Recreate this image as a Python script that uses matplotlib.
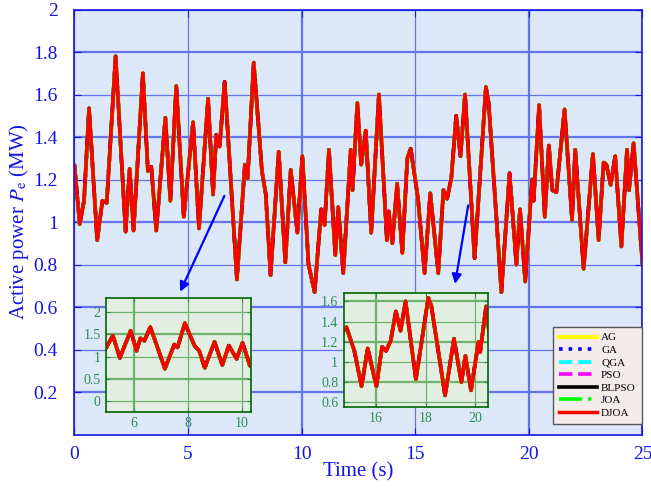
import matplotlib
matplotlib.use("Agg")
import matplotlib.pyplot as plt

plt.rcParams['font.family'] = ['Liberation Serif', 'DejaVu Serif']
plt.rcParams['mathtext.fontset'] = 'stix'

time_s = [0.00, 0.23, 0.42, 0.64, 1.00, 1.23, 1.42, 1.81, 2.25, 2.43,
          2.60, 3.01, 3.23, 3.38, 3.60, 4.00, 4.22, 4.48, 4.81, 5.22,
          5.48, 5.88, 6.10, 6.24, 6.39, 6.61, 7.15, 7.50, 7.62, 7.89,
          8.25, 8.42, 8.63, 8.99, 9.28, 9.52, 9.81, 10.03, 10.30, 10.57,
          10.86, 11.01, 11.20, 11.48, 11.61, 11.83, 12.16, 12.24, 12.45, 12.62,
          12.82, 13.06, 13.40, 13.75, 13.83, 13.99, 14.20, 14.43, 14.65, 14.80,
          15.12, 15.41, 15.66, 16.01, 16.24, 16.40, 16.59, 16.80, 16.99, 17.19,
          17.61, 18.11, 18.23, 18.79, 19.15, 19.45, 19.61, 19.84, 20.14, 20.21,
          20.45, 20.70, 20.88, 21.03, 21.21, 21.57, 21.90, 22.04, 22.41, 22.82,
          23.07, 23.29, 23.41, 23.60, 23.80, 24.07, 24.32, 24.41, 24.61, 25.00]
power = [1.265, 0.99, 1.10, 1.535, 0.915, 1.10, 1.09, 1.78, 0.955, 1.25,
         0.96, 1.70, 1.24, 1.26, 0.96, 1.49, 1.10, 1.64, 1.025, 1.47,
         0.97, 1.58, 1.13, 1.41, 1.355, 1.66, 0.73, 1.27, 1.205, 1.75,
         1.24, 1.13, 0.75, 1.33, 0.81, 1.245, 0.95, 1.31, 0.80, 0.67,
         1.06, 0.986, 1.34, 0.845, 1.07, 0.76, 1.34, 1.15, 1.56, 1.27,
         1.43, 0.95, 1.60, 0.915, 1.05, 0.90, 1.18, 0.855, 1.30, 1.345,
         1.11, 0.76, 1.135, 0.76, 1.15, 1.11, 1.21, 1.50, 1.31, 1.60,
         0.83, 1.635, 1.56, 0.67, 1.23, 0.80, 1.06, 0.72, 1.20, 1.10,
         1.55, 1.025, 1.36, 1.15, 1.14, 1.53, 1.01, 1.34, 0.78, 1.32,
         0.915, 1.28, 1.27, 1.175, 1.31, 0.885, 1.34, 1.15, 1.37, 0.80]

algorithms = ['AG', 'GA', 'QGA', 'PSO', 'BLPSO', 'JOA', 'DJOA']
colors = ['#FFFF00', '#0000FF', '#00FFFF', '#FF00FF', '#000000', '#00FF00', '#FF0000']
styles = ['-', ':', '--', '--', '-', '-.', '-']
widths = [3.0, 2.6, 2.6, 2.6, 2.6, 2.6, 2.5]

blue = '#1414E6'
grid_blue = '#6673EE'
green = '#2E8B57'


def draw_series(ax, label=True):
    for name, c, ls, lw in zip(algorithms, colors, styles, widths):
        ax.plot(time_s, power, color=c, ls=ls, lw=lw,
                label=name if label else None)


fig = plt.figure(figsize=(6.51, 4.88), dpi=100)
ax = fig.add_axes([0.1144, 0.1096, 0.8725, 0.8709])
ax.set_facecolor('#DCE8F7')
draw_series(ax)
ax.set_xlim(0, 25)
ax.set_ylim(0, 2)
ax.set_xticks([0, 5, 10, 15, 20, 25])
ax.set_yticks([0.2, 0.4, 0.6, 0.8, 1.0, 1.2, 1.4, 1.6, 1.8, 2.0])
ax.set_yticklabels(['0.2', '0.4', '0.6', '0.8', '1', '1.2', '1.4', '1.6', '1.8', '2'])
ax.grid(True, color=grid_blue)
for i, gl in enumerate(ax.get_ygridlines()):
    gl.set_linewidth(1.6 if i % 2 == 0 else 0.9)
for i, gl in enumerate(ax.get_xgridlines()):
    gl.set_linewidth(1.6 if i in (2, 4) else 0.9)
ax.set_axisbelow(True)
for s in ax.spines.values():
    s.set_color(blue)
    s.set_linewidth(1.2)
ax.tick_params(direction='in', colors=blue, labelsize=14, top=True, right=True,
               length=5)
ax.tick_params(axis='x', pad=8)
ax.tick_params(axis='y', pad=12)
ax.set_xlabel('Time (s)', color=blue, fontsize=15, labelpad=0)
ax.set_ylabel(r'Active power $P_{\mathrm{e}}$ (MW)', color=blue, fontsize=15, labelpad=2)

leg = ax.legend(loc='lower right', bbox_to_anchor=(0.999, 0.025), borderaxespad=0,
                fontsize=8, handlelength=3.4, labelspacing=0.25, handletextpad=0.4,
                borderpad=0.55, fancybox=False, framealpha=1)
leg.get_frame().set_facecolor('#F4ECEB')
leg.get_frame().set_edgecolor('#555555')

# zoomed insets
insets = [([0.163, 0.156, 0.222, 0.234], (4.97, 10.33), (-0.24, 2.32),
           [6, 8, 10], [0, 0.5, 1, 1.5, 2], ['0', '0.5', '1', '1.5', '2']),
          ([0.528, 0.167, 0.221, 0.232], (14.69, 20.51), (0.56, 1.68),
           [16, 18, 20], [0.6, 0.8, 1.0, 1.2, 1.4, 1.6], ['0.6', '0.8', '1', '1.2', '1.4', '1.6'])]
for rect, xl, yl, xt, yt, ytl in insets:
    ins = fig.add_axes(rect)
    ins.set_facecolor('#E3EEE2')
    draw_series(ins, label=False)
    ins.set_xlim(*xl)
    ins.set_ylim(*yl)
    ins.set_xticks(xt)
    ins.set_yticks(yt)
    ins.set_yticklabels(ytl)
    ins.grid(True, color='#6FB06F')
    for i, gl in enumerate(ins.get_ygridlines()):
        gl.set_linewidth(1.6 if i % 2 == 1 else 0.9)
    for i, gl in enumerate(ins.get_xgridlines()):
        gl.set_linewidth(1.6 if i == 0 else 0.9)
    ins.set_axisbelow(True)
    for s in ins.spines.values():
        s.set_color('#006400')
        s.set_linewidth(1.2)
    ins.tick_params(direction='in', colors=green, labelsize=10, top=True, right=True,
                    length=3, pad=4)

arrow = dict(arrowstyle='-|>', color='#0000FF', lw=1.6, mutation_scale=14)
ax.annotate('', xy=(4.6, 0.66), xytext=(6.65, 1.135), arrowprops=arrow)
ax.annotate('', xy=(16.73, 0.696), xytext=(17.35, 1.091), arrowprops=arrow)

fig.savefig('out.png', dpi=100)
